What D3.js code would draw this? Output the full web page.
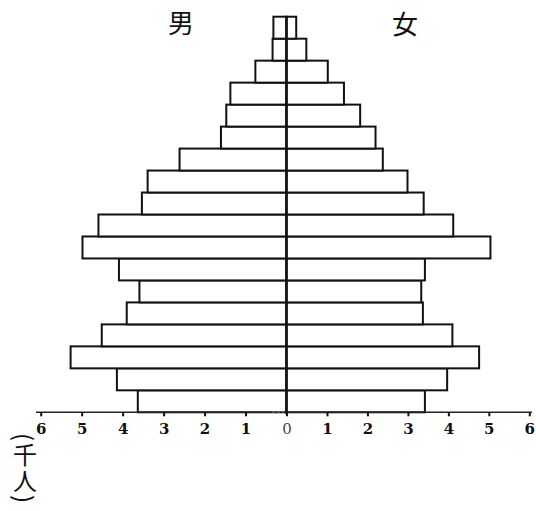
<!DOCTYPE html>
<html><head><meta charset="utf-8">
<script src="https://cdn.jsdelivr.net/npm/d3@7"></script>
<style>html,body{margin:0;padding:0;background:#fff;}svg{display:block;}</style>
</head><body>
<script>
// age groups, bottom (youngest) to top (oldest)
const ageGroups = ["0-4","5-9","10-14","15-19","20-24","25-29","30-34","35-39","40-44","45-49","50-54","55-59","60-64","65-69","70-74","75-79","80-84","85+"];
// thousands of people
const male   = [3.63,4.14,5.27,4.51,3.90,3.59,4.09,4.98,4.59,3.53,3.39,2.61,1.60,1.47,1.37,0.76,0.34,0.32];
const female = [3.42,3.97,4.76,4.10,3.37,3.33,3.42,5.04,4.12,3.39,2.99,2.38,2.20,1.82,1.42,1.02,0.49,0.24];
const tickValues = [0,1,2,3,4,5,6];
const sideLabels = ["男","女"];
const unitLabel = "(千人)";

const W = 536, H = 511;
const svg = d3.select("body").append("svg").attr("width", W).attr("height", H);

const cx = 286.5;
const xMale = d3.scaleLinear().domain([0,6]).range([cx, 40.7]);
const xFemale = d3.scaleLinear().domain([0,6]).range([cx, 529.3]);
const y = d3.scaleBand().domain(ageGroups.slice().reverse()).range([16.7, 412.3]).padding(0);
const axisY = 412.3;

const data = ageGroups.map((a,i)=>({age:a, m:male[i], f:female[i]}));

// male bars
svg.append("g").selectAll("rect").data(data).join("rect")
  .attr("x", d=>xMale(d.m)).attr("y", d=>y(d.age))
  .attr("width", d=>cx - xMale(d.m)).attr("height", y.bandwidth())
  .attr("fill","#fff").attr("stroke","#111").attr("stroke-width",2);
// female bars
svg.append("g").selectAll("rect").data(data).join("rect")
  .attr("x", cx).attr("y", d=>y(d.age))
  .attr("width", d=>xFemale(d.f) - cx).attr("height", y.bandwidth())
  .attr("fill","#fff").attr("stroke","#111").attr("stroke-width",2);

// center line
svg.append("line").attr("x1",cx).attr("x2",cx).attr("y1",y.range()[0]).attr("y2",axisY+2)
  .attr("stroke","#111").attr("stroke-width",2.5);

// axis line
svg.append("line").attr("x1",36).attr("x2",272).attr("y1",axisY).attr("y2",axisY)
  .attr("stroke","#222").attr("stroke-width",1.6);
svg.append("line").attr("x1",272).attr("x2",284).attr("y1",axisY).attr("y2",axisY)
  .attr("stroke","#555").attr("stroke-width",1.2).attr("stroke-dasharray","3,2");
svg.append("line").attr("x1",284).attr("x2",532).attr("y1",axisY).attr("y2",axisY)
  .attr("stroke","#222").attr("stroke-width",1.6);

function styleAxis(g){
  g.select(".domain").remove();
  g.selectAll(".tick line").attr("stroke","#111").attr("stroke-width",2);
  g.selectAll(".tick text")
    .attr("font-family","'DejaVu Serif', serif")
    .attr("font-weight", d=> d===0 ? "normal" : "bold")
    .attr("fill", d=> d===0 ? "#444" : "#111")
    .attr("font-size",15).attr("dy","0.71em").attr("y",11);
}
svg.append("g").attr("transform",`translate(0,${axisY})`)
  .call(d3.axisBottom(xMale).tickValues(tickValues).tickSize(4).tickFormat(d3.format("d")))
  .call(styleAxis);
svg.append("g").attr("transform",`translate(0,${axisY})`)
  .call(d3.axisBottom(xFemale).tickValues(tickValues.filter(v=>v>0)).tickSize(4).tickFormat(d3.format("d")))
  .call(styleAxis);

// side labels
const cjk = "'Noto Sans CJK JP', 'Noto Sans CJK SC', sans-serif";
svg.append("text").attr("x",181).attr("y",21).text(sideLabels[0])
  .attr("font-family",cjk).attr("font-size",26)
  .attr("text-anchor","middle").attr("dominant-baseline","central").attr("fill","#111");
svg.append("text").attr("x",405).attr("y",22).text(sideLabels[1])
  .attr("font-family",cjk).attr("font-size",26)
  .attr("text-anchor","middle").attr("dominant-baseline","central").attr("fill","#111");

// unit label (vertical, one text)
svg.append("text").attr("x",25).attr("y",433).text(unitLabel)
  .style("writing-mode","vertical-rl")
  .attr("font-family",cjk).attr("font-size",24).attr("letter-spacing",2)
  .attr("fill","#111");
</script>
</body></html>
